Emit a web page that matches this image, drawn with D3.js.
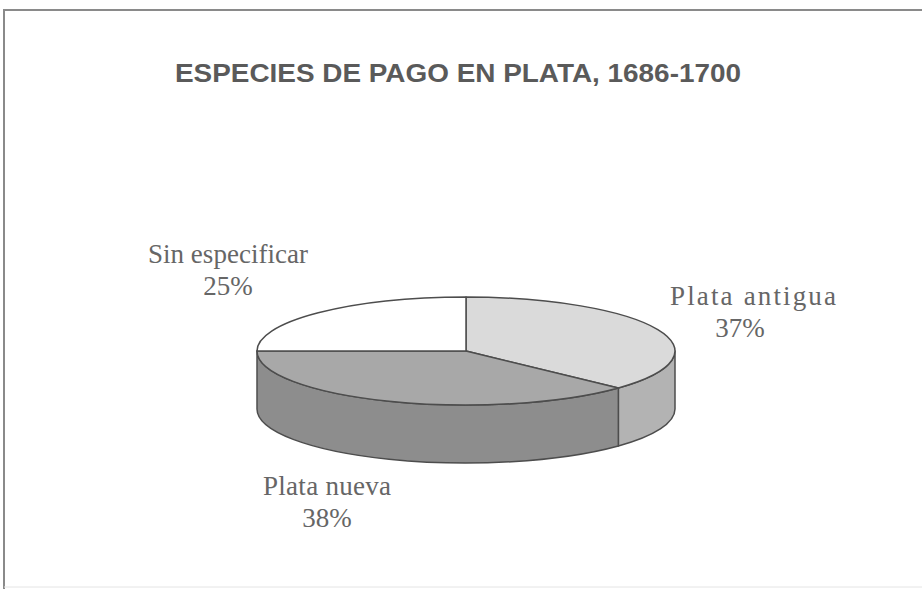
<!DOCTYPE html>
<html>
<head>
<meta charset="utf-8">
<script src="https://cdn.jsdelivr.net/npm/d3@7"></script>
<style>
  body { margin: 0; background: #fff; }
</style>
</head>
<body>
<script>
// Chart data
const title = "ESPECIES DE PAGO EN PLATA, 1686-1700";
const categories = ["Plata antigua", "Plata nueva", "Sin especificar"];
const values = [37, 38, 25];

// Styling per slice (top face, side wall)
const topColors = ["#dadada", "#a8a8a8", "#ffffff"];
const sideColors = ["#b3b3b3", "#8d8d8d", "#d0d0d0"];

const width = 922, height = 589;
const cx = 466, cy = 351, rx = 209, ry = 54, depth = 58;

const svg = d3.select("body").append("svg")
    .attr("width", width)
    .attr("height", height);

// Frame
svg.append("path")
    .attr("d", `M4,${height} L4,10 L${width},10`)
    .attr("fill", "none")
    .attr("stroke", "#8a8a8a")
    .attr("stroke-width", 2);
svg.append("line")
    .attr("x1", 4).attr("x2", width)
    .attr("y1", 587).attr("y2", 587)
    .attr("stroke", "#e4e4e4")
    .attr("stroke-width", 1);

// Title
svg.append("text")
    .attr("x", 458)
    .attr("y", 82)
    .attr("text-anchor", "middle")
    .attr("font-family", "'Liberation Sans', Arial, sans-serif")
    .attr("font-weight", "bold")
    .attr("font-size", 26)
    .attr("fill", "#5a5a5a")
    .attr("textLength", 566)
    .attr("lengthAdjust", "spacingAndGlyphs")
    .text(title);

// Pie angles (0 at 12 o'clock, clockwise)
const pie = d3.pie().sort(null).value(d => d);
const arcs = pie(values);

const pt = (a, dy = 0) => [cx + rx * Math.sin(a), cy - ry * Math.cos(a) + dy];

// Side walls for the front half only
const g = svg.append("g");
arcs.forEach((d, i) => {
    const a0 = Math.max(d.startAngle, Math.PI / 2);
    const a1 = Math.min(d.endAngle, 3 * Math.PI / 2);
    if (a1 <= a0) return;
    const p0 = pt(a0), p1 = pt(a1);
    const large = (a1 - a0) > Math.PI ? 1 : 0;
    const path = `M${p0} A${rx},${ry} 0 ${large} 1 ${p1} L${pt(a1, depth)} ` +
        `A${rx},${ry} 0 ${large} 0 ${pt(a0, depth)} Z`;
    g.append("path")
        .attr("d", path)
        .attr("fill", sideColors[i])
        .attr("stroke", "#4d4d4d")
        .attr("stroke-width", 1.5)
        .attr("stroke-linejoin", "round");
});

// Top faces
arcs.forEach((d, i) => {
    const p0 = pt(d.startAngle), p1 = pt(d.endAngle);
    const large = (d.endAngle - d.startAngle) > Math.PI ? 1 : 0;
    g.append("path")
        .attr("d", `M${cx},${cy} L${p0} A${rx},${ry} 0 ${large} 1 ${p1} Z`)
        .attr("fill", topColors[i])
        .attr("stroke", "#4d4d4d")
        .attr("stroke-width", 1.5)
        .attr("stroke-linejoin", "round");
});

// Labels (x, y, width of name line)
const labelPos = [[753, 305, 166], [327, 495, 128], [228, 263, 160]];
arcs.forEach((d, i) => {
    const t = svg.append("text")
        .attr("text-anchor", "middle")
        .attr("font-family", "'Liberation Serif', 'Times New Roman', serif")
        .attr("font-size", 27)
        .attr("fill", "#666");
    t.append("tspan")
        .attr("x", labelPos[i][0])
        .attr("y", labelPos[i][1])
        .attr("textLength", labelPos[i][2])
        .attr("lengthAdjust", "spacing")
        .text(categories[i]);
    t.append("tspan")
        .attr("x", labelPos[i][0] - (i === 0 ? 13 : 0))
        .attr("y", labelPos[i][1] + 32)
        .text(values[i] + "%");
});
</script>
</body>
</html>
